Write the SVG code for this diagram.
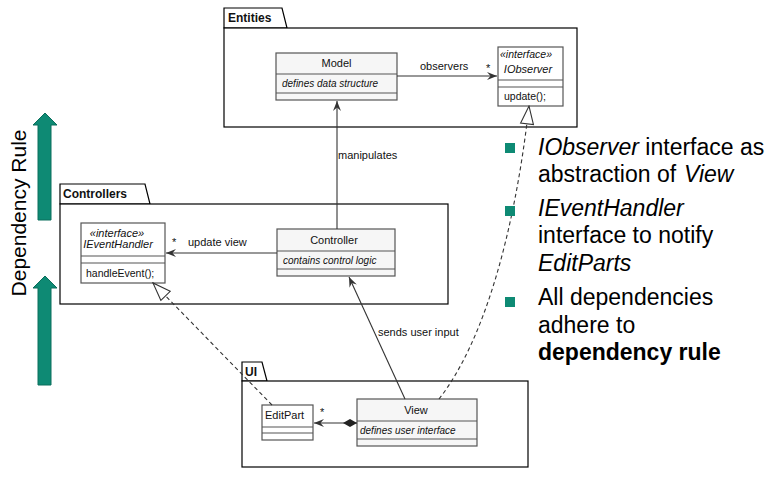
<svg xmlns="http://www.w3.org/2000/svg" width="780" height="478" viewBox="0 0 780 478">
<style>
.pkg{fill:#fff;stroke:#000;stroke-width:1.2}
.cls{stroke:#555;stroke-width:1.2}
.g{fill:#f6f6f6}
.w{fill:#fff}
.t{font-family:"Liberation Sans",Arial,sans-serif;fill:#111}
.n{font-size:11px}
.i{font-size:10px;font-style:italic}
.pt{font-size:12px;font-weight:bold}
.ln{stroke:#333;stroke-width:1.1;fill:none}
.dash{stroke-dasharray:4,3}
.b{font-size:23px;fill:#000}
.bul{fill:#0e8a74}
.arr{fill:#0e8a74;stroke:#0a6e5c;stroke-width:1}
</style>
<defs>
<marker id="open" viewBox="0 0 10 10" refX="10" refY="5" markerWidth="10" markerHeight="10" markerUnits="userSpaceOnUse" orient="auto">
<path d="M0,1 L10,5 L0,9 L3.5,5 Z" fill="#333"/>
</marker>
<marker id="tri" viewBox="0 0 20 16" refX="19" refY="8" markerWidth="20" markerHeight="16" markerUnits="userSpaceOnUse" orient="auto">
<path d="M1,1.5 L19,8 L1,14.5 Z" fill="#fff" stroke="#333" stroke-width="1.1"/>
</marker>
<marker id="dia" viewBox="0 0 16 10" refX="1" refY="5" markerWidth="16" markerHeight="10" markerUnits="userSpaceOnUse" orient="auto">
<path d="M1,5 L8,1 L15,5 L8,9 Z" fill="#222"/>
</marker>
</defs>

<!-- Dependency rule arrows -->
<g id="dep-rule">
<polygon class="arr" points="45,113 57,125 51,125 51,220 38,220 38,125 33,125"/>
<polygon class="arr" points="45,276 57,288 51,288 51,385 38,385 38,288 33,288"/>
<text class="t" transform="translate(26,213) rotate(-90)" text-anchor="middle" style="font-size:21px;fill:#000">Dependency Rule</text>
</g>

<!-- Packages -->
<g id="pkg-entities">
<path class="pkg" d="M224,28 L224,8 L282,8 L287,28 Z"/>
<rect class="pkg" x="224" y="28" width="353" height="99"/>
<text class="t pt" x="228" y="22">Entities</text>
</g>
<g id="pkg-controllers">
<path class="pkg" d="M60,204 L60,184 L145,184 L150,204 Z"/>
<rect class="pkg" x="60" y="204" width="388" height="100"/>
<text class="t pt" x="63" y="198">Controllers</text>
</g>
<g id="pkg-ui">
<path class="pkg" d="M242,381 L242,362 L262,362 L267,381 Z"/>
<rect class="pkg" x="242" y="381" width="286" height="86"/>
<text class="t pt" x="245" y="376">UI</text>
</g>

<!-- Classes -->
<g id="model">
<rect class="cls g" x="276" y="53" width="121" height="47"/>
<line class="cls" x1="276" y1="74" x2="397" y2="74"/>
<line class="cls" x1="276" y1="93" x2="397" y2="93"/>
<text class="t n" x="336.5" y="67" text-anchor="middle">Model</text>
<text class="t i" x="282" y="87">defines data structure</text>
</g>
<g id="iobserver">
<rect class="cls w" x="498" y="47" width="65" height="59"/>
<line class="cls" x1="498" y1="80" x2="563" y2="80"/>
<line class="cls" x1="498" y1="87" x2="563" y2="87"/>
<text class="t i" style="font-size:10.5px" x="526" y="58" text-anchor="middle">«interface»</text>
<text class="t i" style="font-size:11px" x="528" y="73" text-anchor="middle">IObserver</text>
<text class="t" style="font-size:10.5px" x="504" y="100">update();</text>
</g>
<g id="ieventhandler">
<rect class="cls w" x="81" y="223" width="84" height="60"/>
<line class="cls" x1="81" y1="256" x2="165" y2="256"/>
<line class="cls" x1="81" y1="263" x2="165" y2="263"/>
<text class="t i" style="font-size:11px" x="117" y="237" text-anchor="middle">«interface»</text>
<text class="t i" style="font-size:11px" x="118" y="248" text-anchor="middle">IEventHandler</text>
<text class="t" style="font-size:10.5px" x="86" y="277">handleEvent();</text>
</g>
<g id="controller">
<rect class="cls g" x="277" y="229" width="118" height="47"/>
<line class="cls" x1="277" y1="251" x2="395" y2="251"/>
<line class="cls" x1="277" y1="269" x2="395" y2="269"/>
<text class="t n" x="334" y="244" text-anchor="middle">Controller</text>
<text class="t i" x="283" y="264">contains control logic</text>
</g>
<g id="editpart">
<rect class="cls w" x="262" y="405" width="51" height="35"/>
<line class="cls" x1="262" y1="427" x2="313" y2="427"/>
<line class="cls" x1="262" y1="433" x2="313" y2="433"/>
<text class="t n" x="265" y="419">EditPart</text>
</g>
<g id="view">
<rect class="cls g" x="357" y="399" width="120" height="47"/>
<line class="cls" x1="357" y1="421" x2="477" y2="421"/>
<line class="cls" x1="357" y1="439" x2="477" y2="439"/>
<text class="t n" x="416" y="414" text-anchor="middle">View</text>
<text class="t i" x="360" y="434">defines user interface</text>
</g>

<!-- Connectors -->
<g id="connectors">
<line class="ln" x1="397" y1="76" x2="497" y2="76" marker-end="url(#open)"/>
<text class="t n" x="420" y="70">observers</text>
<text class="t n" x="486" y="72">*</text>

<line class="ln" x1="337" y1="229" x2="337" y2="101" marker-end="url(#open)"/>
<text class="t n" x="338" y="159">manipulates</text>

<line class="ln" x1="277" y1="253" x2="166" y2="253" marker-end="url(#open)"/>
<text class="t n" x="188" y="246">update view</text>
<text class="t n" x="172" y="246">*</text>

<line class="ln" x1="405" y1="399" x2="349" y2="277" marker-end="url(#open)"/>
<text class="t n" x="378" y="336">sends user input</text>

<line class="ln" x1="357" y1="423" x2="314" y2="423" marker-start="url(#dia)" marker-end="url(#open)"/>
<text class="t n" x="320" y="416">*</text>

<path class="ln dash" d="M439,399 C485,340 515,230 529,106" marker-end="url(#tri)"/>
<line class="ln dash" x1="272" y1="405" x2="153" y2="283" marker-end="url(#tri)"/>
</g>

<!-- Bullets -->
<g id="bullets">
<rect class="bul" x="505" y="143" width="10" height="10"/>
<rect class="bul" x="505" y="206" width="10" height="10"/>
<rect class="bul" x="505" y="297" width="10" height="10"/>
<text class="t b" x="538" y="155"><tspan font-style="italic">IObserver</tspan> interface as</text>
<text class="t b" x="538" y="182">abstraction of <tspan x="684" font-style="italic">View</tspan></text>
<text class="t b" x="538" y="216" font-style="italic">IEventHandler</text>
<text class="t b" x="538" y="243">interface to notify</text>
<text class="t b" x="538" y="271" font-style="italic">EditParts</text>
<text class="t b" x="538" y="305">All dependencies</text>
<text class="t b" x="538" y="333">adhere to</text>
<text class="t b" x="538" y="360" font-weight="bold">dependency rule</text>
</g>
</svg>
